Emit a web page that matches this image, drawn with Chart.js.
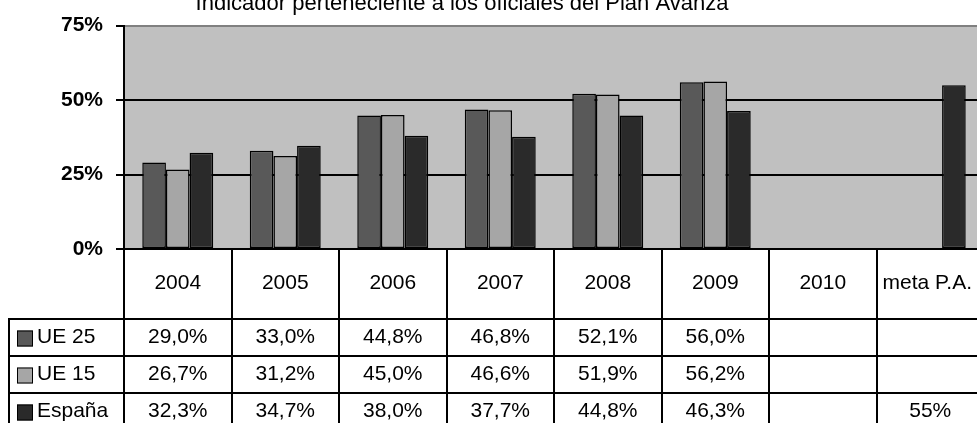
<!DOCTYPE html>
<html>
<head>
<meta charset="utf-8">
<script src="https://cdn.jsdelivr.net/npm/chart.js@4"></script>
<style>
  html, body { margin: 0; padding: 0; background: #fff; overflow: hidden; }
  #wrap { position: relative; width: 984px; height: 423px; }
</style>
</head>
<body>
<div id="wrap"><canvas id="chart"></canvas></div>
<script>
'use strict';

/* Data */
const CATEGORIES = ['2004', '2005', '2006', '2007', '2008', '2009', '2010', 'meta P.A.'];
const SERIES     = ['UE 25', 'UE 15', 'España'];
const UE25       = [29.0, 33.0, 44.8, 46.8, 52.1, 56.0, null, null];
const UE15       = [26.7, 31.2, 45.0, 46.6, 51.9, 56.2, null, null];
const ESPANA     = [32.3, 34.7, 38.0, 37.7, 44.8, 46.3, null, 55];
const Y_TICKS    = [0, 25, 50, 75];
const TITLE      = 'Indicador perteneciente a los oficiales del Plan Avanza';

/* Styles */
const FONT      = '"Liberation Sans", Arial, sans-serif';
const C_UE25    = '#595959';
const C_UE15    = '#a6a6a6';
const C_ESP     = '#2a2a2a';
const C_PLOT    = '#c0c0c0';
const COLORS    = [C_UE25, C_UE15, C_ESP];

function fmt(v, catIdx) {
  if (v === null || v === undefined) return '';
  if (CATEGORIES[catIdx] === 'meta P.A.') return v.toFixed(0) + '%';
  return v.toFixed(1).replace('.', ',') + '%';
}

/* Plot background + title */
const backdrop = {
  id: 'backdrop',
  beforeDraw(chart) {
    const { ctx, chartArea: a } = chart;
    ctx.save();
    ctx.fillStyle = '#fff';
    ctx.fillRect(0, 0, chart.width, chart.height);
    ctx.fillStyle = C_PLOT;
    ctx.fillRect(a.left, a.top, a.right - a.left, a.bottom - a.top);
    ctx.restore();
  },
  afterDraw(chart) {
    const ctx = chart.ctx;
    ctx.save();
    ctx.fillStyle = '#000';
    ctx.font = '22px ' + FONT;
    ctx.textAlign = 'center';
    ctx.textBaseline = 'alphabetic';
    ctx.fillText(TITLE, 462, 10);
    ctx.restore();
  }
};

/* Data table under the plot */
const dataTable = {
  id: 'dataTable',
  afterDraw(chart) {
    const { ctx, chartArea: a } = chart;
    const n = CATEGORIES.length;
    const w = (a.right - a.left) / n;
    const rows = [UE25, UE15, ESPANA];
    const rowTop = [319, 356, 393];
    const rowH = 37;
    const bottom = chart.height;

    ctx.save();
    ctx.strokeStyle = '#000';
    ctx.lineWidth = 2;
    ctx.beginPath();
    for (let k = 0; k <= n; k++) {
      const x = Math.round(a.left + k * w);
      ctx.moveTo(x, a.bottom);
      ctx.lineTo(x, bottom);
    }
    rowTop.forEach(y => { ctx.moveTo(8, y); ctx.lineTo(a.right, y); });
    ctx.moveTo(9, rowTop[0]);
    ctx.lineTo(9, bottom);
    ctx.stroke();

    ctx.fillStyle = '#000';
    ctx.font = '21px ' + FONT;
    ctx.textBaseline = 'middle';
    ctx.textAlign = 'center';
    CATEGORIES.forEach((c, i) => {
      const cx = a.left + (i + 0.5) * w;
      ctx.fillText(c, i === n - 1 ? cx - 3 : cx, 283);
    });

    rows.forEach((vals, r) => {
      const cy = rowTop[r] + rowH / 2;
      // legend key
      ctx.fillStyle = COLORS[r];
      ctx.fillRect(17, cy - 7, 16, 16);
      ctx.lineWidth = 1;
      ctx.strokeRect(17.5, cy - 6.5, 15, 15);
      ctx.fillStyle = '#000';
      ctx.textAlign = 'left';
      ctx.fillText(SERIES[r], 37, cy);
      ctx.textAlign = 'center';
      vals.forEach((v, i) => {
        ctx.fillText(fmt(v, i), a.left + (i + 0.5) * w, cy);
      });
    });
    ctx.restore();
  }
};

const barStyle = { borderColor: '#000', borderWidth: 1.5, borderSkipped: false };

new Chart(document.getElementById('chart'), {
  type: 'bar',
  data: {
    labels: CATEGORIES,
    datasets: [
      { label: SERIES[0], data: UE25,   backgroundColor: C_UE25, ...barStyle },
      { label: SERIES[1], data: UE15,   backgroundColor: C_UE15, ...barStyle },
      { label: SERIES[2], data: ESPANA, backgroundColor: C_ESP,  ...barStyle },
    ],
  },
  options: {
    responsive: true,
    maintainAspectRatio: false,
    animation: false,
    layout: { padding: { top: 23, right: 0, bottom: 174, left: 0 } },
    datasets: { bar: { categoryPercentage: 0.66, barPercentage: 1.0 } },
    plugins: {
      legend: { display: false },
      title: { display: false },
      tooltip: { enabled: false },
    },
    scales: {
      x: { display: false },
      y: {
        min: 0,
        max: 75,
        afterBuildTicks: s => { s.ticks = Y_TICKS.map(v => ({ value: v })); },
        afterFit: s => { s.width = 124; },
        ticks: {
          color: '#000',
          padding: 13,
          font: { family: FONT, size: 21, weight: 'bold' },
          callback: v => v + '%',
        },
        grid: {
          color: c => (c.tick && c.tick.value === 75 ? '#808080' : '#000'),
          lineWidth: 2,
          tickColor: '#000',
          tickLength: 8,
        },
        border: { color: '#000', width: 2 },
      },
    },
  },
  plugins: [backdrop, dataTable],
});
</script>
</body>
</html>
